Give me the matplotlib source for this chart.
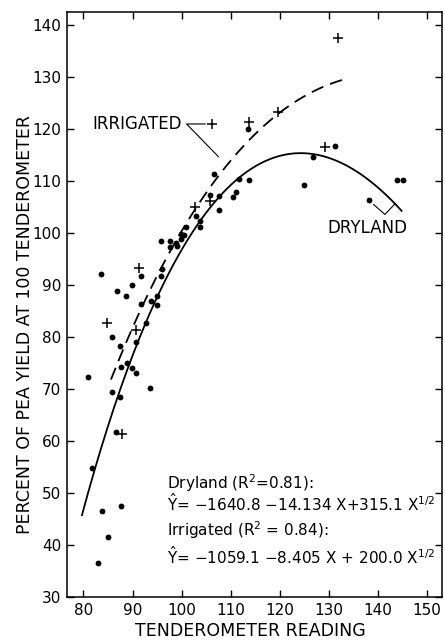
import numpy as np
import matplotlib
matplotlib.use("Agg")
import matplotlib.pyplot as plt

# dryland points (dots)
dry_x = [83.5, 86.8, 88.6, 89.8, 91.7, 91.7, 93.8, 94.9, 94.9, 95.8, 95.9, 95.7,
         97.7, 97.7, 98.8, 99.1, 99.8, 99.8, 100.5, 100.9, 103.0, 103.8, 103.8,
         105.8, 106.6, 107.6, 107.6, 110.4, 111.1, 111.6, 113.7, 113.6, 125.0,
         126.8, 131.2, 138.2, 143.9, 145.0,
         85.9, 87.5, 90.8, 92.8, 87.7, 88.8, 89.8, 90.7, 80.9, 93.6, 85.8, 87.5,
         86.7, 81.8, 83.7, 87.7, 85.0, 82.9]
dry_y = [92.1, 88.8, 87.9, 90.0, 91.8, 86.3, 86.9, 88.0, 86.1, 91.8, 93.1, 98.4,
         98.4, 97.3, 98.2, 97.5, 98.9, 99.8, 99.7, 101.2, 103.3, 102.4, 101.2,
         107.4, 111.3, 107.2, 104.4, 107.0, 107.9, 110.4, 110.2, 120.0, 109.3,
         114.6, 116.7, 106.4, 110.2, 110.2,
         80.0, 78.2, 79.1, 82.7, 74.3, 75.0, 74.1, 73.1, 72.4, 70.3, 69.4, 68.4,
         61.7, 54.8, 46.6, 47.6, 41.5, 36.5]

# irrigated points (pluses)
irr_x = [113.7, 119.7, 131.8, 129.1, 102.7, 105.7, 91.3, 84.8, 90.7, 87.9]
irr_y = [121.4, 123.3, 137.6, 116.5, 105.1, 106.1, 93.2, 82.7, 81.4, 61.4]

# fitted equations printed on the chart: Y = a + b X + c X^(1/2)
dry_coef = [-1640.8, -14.134, 315.1]
irr_coef = [-1059.1, -8.405, 200.0]
dry_range = [79.7, 144.8]
irr_range = [85.6, 133.5]

x_ticks = [80, 90, 100, 110, 120, 130, 140, 150]
y_ticks = [30, 40, 50, 60, 70, 80, 90, 100, 110, 120, 130, 140]

fig = plt.figure(figsize=(4.45, 6.42), dpi=100)
ax = fig.add_axes([0.150, 0.070, 0.843, 0.911])

xd = np.linspace(dry_range[0], dry_range[1], 200)
ax.plot(xd, dry_coef[0] + dry_coef[1] * xd + dry_coef[2] * np.sqrt(xd),
        color="black", lw=1.3)
xi = np.linspace(irr_range[0], irr_range[1], 200)
ax.plot(xi, irr_coef[0] + irr_coef[1] * xi + irr_coef[2] * np.sqrt(xi),
        color="black", lw=1.3, dashes=(7, 4))

ax.plot(dry_x, dry_y, "o", color="black", ms=4.2, mew=0)
ax.plot(irr_x, irr_y, "+", color="black", ms=7, mew=1.1)

# labels with leader lines
ax.text(100.0, 121.0, "IRRIGATED", ha="right", va="center", fontsize=12)
ax.plot([104.8, 101.0, 107.5], [121.0, 121.0, 114.7], color="black", lw=0.8)
ax.plot([106.2], [121.0], "+", color="black", ms=7, mew=1.1)

ax.text(137.9, 101.0, "DRYLAND", ha="center", va="center", fontsize=12)
ax.plot([139.1, 141.4, 143.5], [105.5, 103.6, 105.7], color="black", lw=0.8)

eq_fs = 11
ax.text(97.1, 52.0, r"Dryland (R$^2$=0.81):", fontsize=eq_fs, va="center")
ax.text(97.1, 48.0, r"$\hat{\mathrm{Y}}$= $-$1640.8 $-$14.134 X+315.1 X$^{1/2}$",
        fontsize=eq_fs, va="center")
ax.text(97.1, 42.9, r"Irrigated (R$^2$ = 0.84):", fontsize=eq_fs, va="center")
ax.text(97.1, 37.8, r"$\hat{\mathrm{Y}}$= $-$1059.1 $-$8.405 X + 200.0 X$^{1/2}$",
        fontsize=eq_fs, va="center")

ax.set_xlim(76.6, 153.0)
ax.set_ylim(30, 142.5)
ax.set_xticks(x_ticks)
ax.set_yticks(y_ticks)
ax.tick_params(direction="in", length=5, width=1, top=True, right=True,
               labelsize=11, pad=4)
for s in ax.spines.values():
    s.set_linewidth(1.1)

fig.text(250 / 445, 1 - 631 / 642, "TENDEROMETER READING", fontsize=12.5,
         ha="center", va="center")
fig.text(25 / 445, 1 - 324 / 642, "PERCENT OF PEA YIELD AT 100 TENDEROMETER",
         fontsize=12.5, rotation=90, ha="center", va="center")

fig.savefig("out.png", dpi=100)
